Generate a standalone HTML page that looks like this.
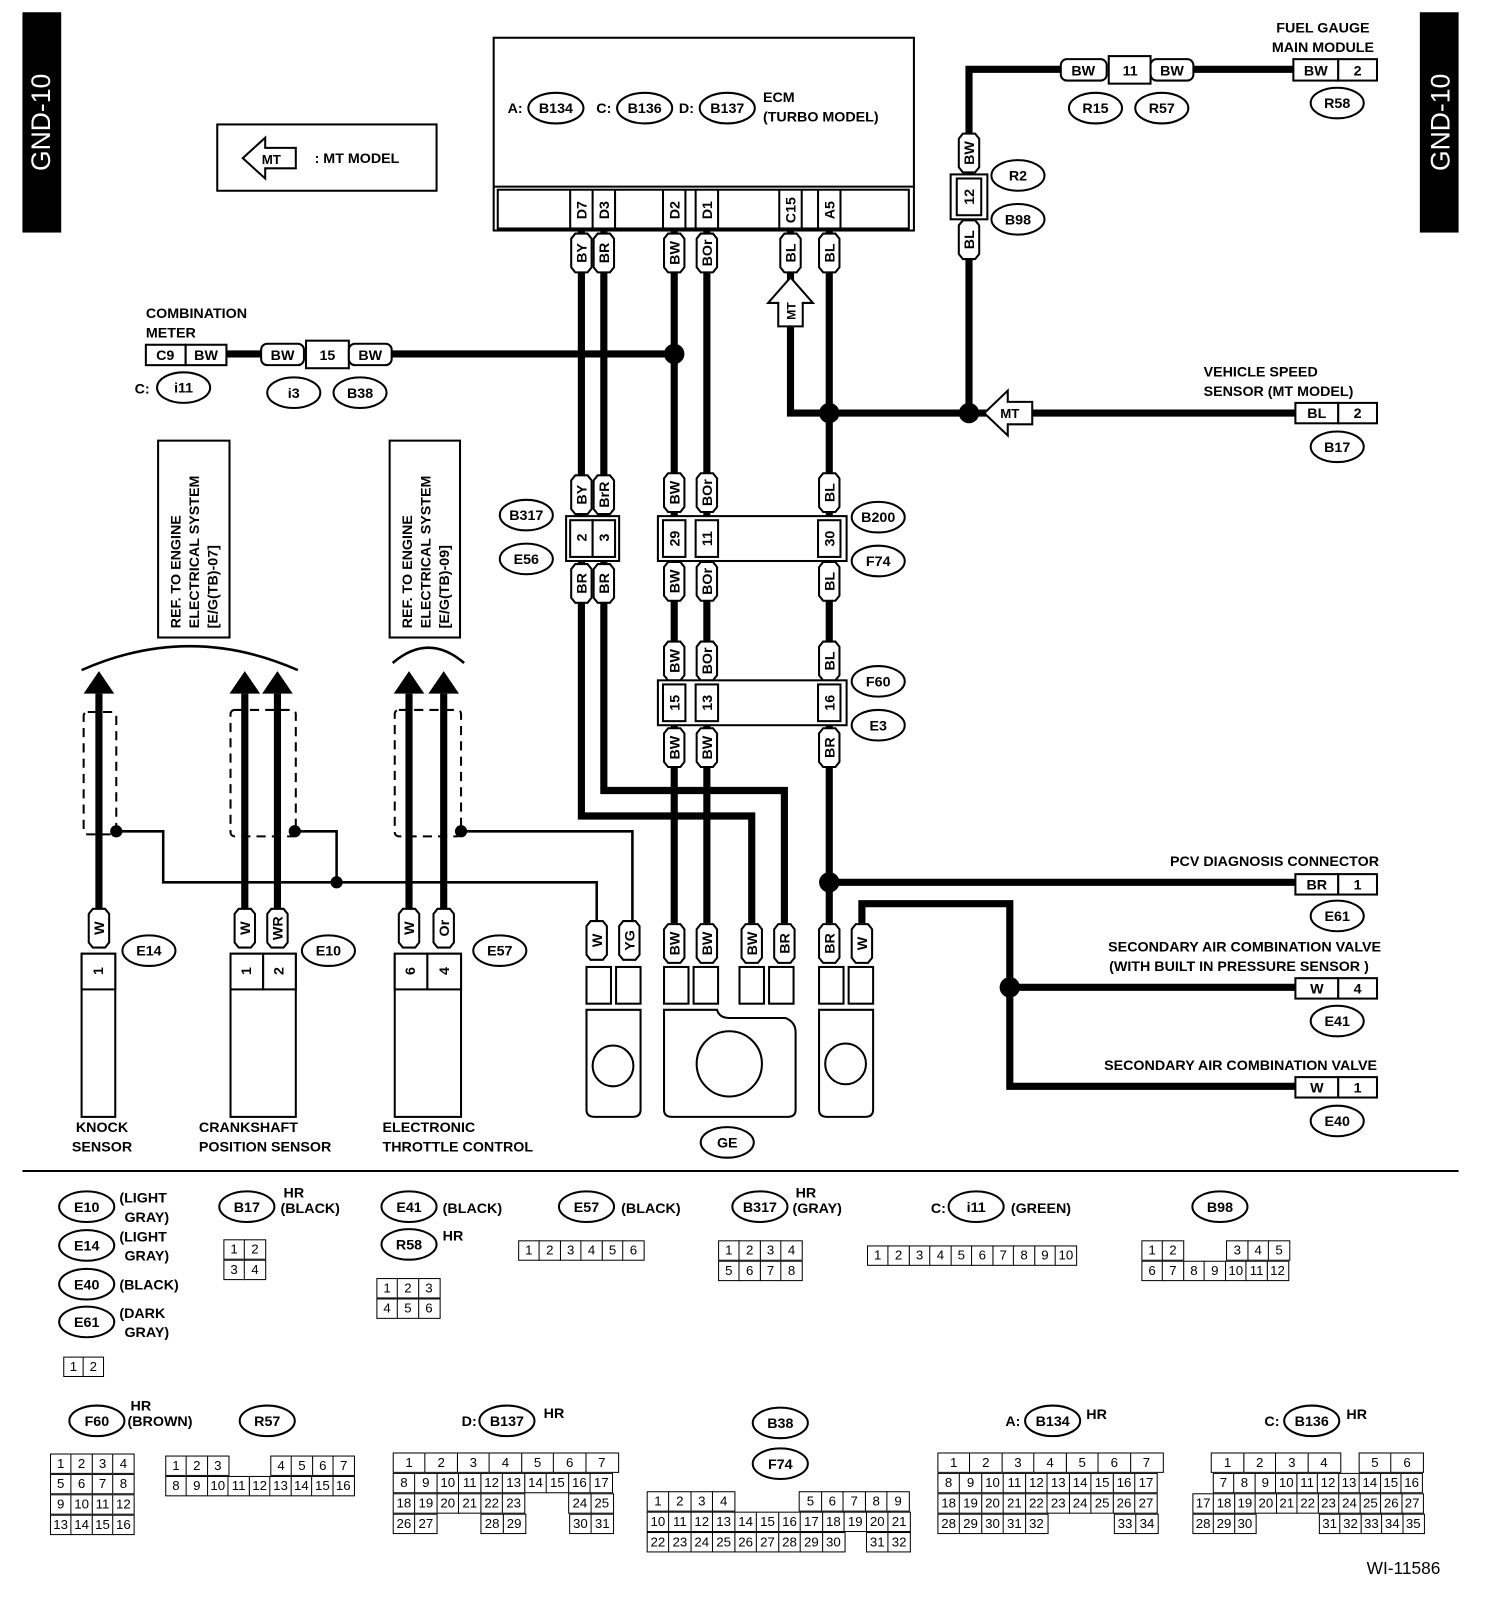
<!DOCTYPE html>
<html><head><meta charset="utf-8"><style>
html,body{margin:0;padding:0;background:#fff}
#w{position:absolute;left:0;top:0;width:1463px;height:1555px;transform:scale(1.02);transform-origin:0 0;font-family:"Liberation Sans",sans-serif;font-weight:bold}
svg{position:absolute;left:0;top:0}
svg text{font-family:"Liberation Sans",sans-serif;font-weight:bold;font-size:14px;text-anchor:middle}
.r{position:absolute;display:flex;height:20px}
.r span{box-sizing:border-box;height:20px;border:1.5px solid #000;margin-left:-1.5px;font-size:13px;line-height:17px;text-align:center;font-weight:normal;background:#fff}
.r span.e{border-color:transparent;background:transparent}
</style></head><body><div id="w">
<svg width="1463" height="1555" viewBox="0 0 1463 1555">
<defs>
<g id="cap"><path d="M-10,-14 L-6,-19 L6,-19 L10,-14 L10,14 L6,19 L-6,19 L-10,14Z" fill="#fff" stroke="#000" stroke-width="2"/></g>
</defs>
<rect x="22" y="12" width="38" height="216" fill="#000"/>
<rect x="1392" y="12" width="38" height="216" fill="#000"/>
<text transform="translate(49,120) rotate(-90)" fill="#fff" style="font-size:26px;font-weight:normal">GND-10</text>
<text transform="translate(1421,120) rotate(-90)" fill="#fff" style="font-size:26px;font-weight:normal">GND-10</text>
<rect x="213" y="122" width="215" height="65" fill="none" stroke="#000" stroke-width="2"/>
<path d="M238,155 L260,135 L260,145 L290,145 L290,165 L260,165 L260,175Z" fill="#fff" stroke="#000" stroke-width="2"/>
<text x="266" y="161" style="font-size:13px">MT</text>
<text x="350" y="160" style="font-size:14px">: MT MODEL</text>
<rect x="484" y="37" width="412" height="189" fill="none" stroke="#000" stroke-width="2"/>
<line x1="484" y1="183" x2="896" y2="183" stroke="#000" stroke-width="2"/>
<rect x="488" y="186" width="403" height="38" fill="none" stroke="#000" stroke-width="2"/>
<g stroke="#000" stroke-width="2"><line x1="559" y1="186" x2="559" y2="224"/><line x1="581" y1="186" x2="581" y2="224"/><line x1="603" y1="186" x2="603" y2="224"/><line x1="650" y1="186" x2="650" y2="224"/><line x1="672" y1="186" x2="672" y2="224"/><line x1="682" y1="186" x2="682" y2="224"/><line x1="704" y1="186" x2="704" y2="224"/><line x1="764" y1="186" x2="764" y2="224"/><line x1="786" y1="186" x2="786" y2="224"/><line x1="802" y1="186" x2="802" y2="224"/><line x1="824" y1="186" x2="824" y2="224"/></g>
<g style="font-size:13px"><text transform="translate(575,206) rotate(-90)">D7</text><text transform="translate(597,206) rotate(-90)">D3</text><text transform="translate(666,206) rotate(-90)">D2</text><text transform="translate(698,206) rotate(-90)">D1</text><text transform="translate(780,206) rotate(-90)">C15</text><text transform="translate(818,206) rotate(-90)">A5</text></g>
<text x="505" y="111">A:</text><text x="592" y="111">C:</text><text x="673" y="111">D:</text>
<g fill="#fff" stroke="#000" stroke-width="2"><ellipse cx="545" cy="106" rx="27" ry="15"/><ellipse cx="632" cy="106" rx="27" ry="15"/><ellipse cx="713" cy="106" rx="27" ry="15"/></g>
<text x="545" y="111">B134</text><text x="632" y="111">B136</text><text x="713" y="111">B137</text>
<text x="748" y="100" style="text-anchor:start">ECM</text><text x="748" y="119" style="text-anchor:start">(TURBO MODEL)</text>

<g fill="none" stroke="#000" stroke-width="7">
<path d="M570,226 V800 H737 V905"/>
<path d="M592,226 V775 H769 V905"/>
<path d="M661,226 V905"/>
<path d="M693,226 V905"/>
<path d="M775,226 V280"/>
<path d="M775,318 V405 H950"/>
<path d="M813,226 V905"/>
<path d="M950,405 H968"/>
<path d="M1010,405 H1270"/>
<path d="M950,405 V68 H1040"/>
<path d="M1170,68 H1268"/>
<path d="M813,865 H1270"/>
<path d="M845,905 V886 H990 V1065 H1270"/>
<path d="M990,968 H1270"/>
<path d="M222,347 H256"/><path d="M384,347 H661"/>
<path d="M97,680 V895"/><path d="M240,680 V895"/><path d="M272,680 V895"/><path d="M401,680 V895"/><path d="M435,680 V895"/>
</g>
<g fill="none" stroke="#000" stroke-width="2.5">
<path d="M114,815 H160 V865 H585 V905"/>
<path d="M289,815 H330 V865"/>
<path d="M452,815 H620 V905"/>
<path d="M80,657 Q186,610 292,657"/>
<path d="M385,650 Q420,620 455,650"/>
</g>
<g fill="none" stroke="#000" stroke-width="2" stroke-dasharray="9,6">
<rect x="82" y="698" width="32" height="120" rx="4"/>
<rect x="226" y="696" width="64" height="124" rx="4"/>
<rect x="387" y="696" width="65" height="124" rx="4"/>
</g>
<g fill="#000"><circle cx="661" cy="347" r="10"/><circle cx="813" cy="405" r="10"/><circle cx="950" cy="405" r="10"/><circle cx="813" cy="865" r="10"/><circle cx="990" cy="968" r="10"/><circle cx="114" cy="815" r="6"/><circle cx="289" cy="815" r="6"/><circle cx="452" cy="815" r="6"/><circle cx="330" cy="865" r="6"/>
<path d="M82,680 L97,658 L112,680Z"/><path d="M225,680 L240,658 L255,680Z"/><path d="M257,680 L272,658 L287,680Z"/><path d="M386,680 L401,658 L416,680Z"/><path d="M420,680 L435,658 L450,680Z"/></g>
<path d="M775,272 L797,297 L787,297 L787,320 L763,320 L763,297 L753,297Z" fill="#fff" stroke="#000" stroke-width="2"/>
<text transform="translate(780,305) rotate(-90)" style="font-size:12px">MT</text>
<path d="M965,405 L988,383 L988,394 L1012,394 L1012,416 L988,416 L988,427Z" fill="#fff" stroke="#000" stroke-width="2"/>
<text x="990" y="410" style="font-size:13px">MT</text>

<g style="font-size:13px">
<use href="#cap" x="570" y="248"/><text transform="translate(575,248) rotate(-90)">BY</text>
<use href="#cap" x="592" y="248"/><text transform="translate(597,248) rotate(-90)">BR</text>
<use href="#cap" x="661" y="248"/><text transform="translate(666,248) rotate(-90)">BW</text>
<use href="#cap" x="693" y="248"/><text transform="translate(698,248) rotate(-90)">BOr</text>
<use href="#cap" x="775" y="248"/><text transform="translate(780,248) rotate(-90)">BL</text>
<use href="#cap" x="813" y="248"/><text transform="translate(818,248) rotate(-90)">BL</text>
<use href="#cap" x="570" y="485"/><text transform="translate(575,485) rotate(-90)">BY</text>
<use href="#cap" x="592" y="485"/><text transform="translate(597,485) rotate(-90)">BrR</text>
<use href="#cap" x="570" y="572"/><text transform="translate(575,572) rotate(-90)">BR</text>
<use href="#cap" x="592" y="572"/><text transform="translate(597,572) rotate(-90)">BR</text>
<use href="#cap" x="661" y="483"/><text transform="translate(666,483) rotate(-90)">BW</text>
<use href="#cap" x="693" y="483"/><text transform="translate(698,483) rotate(-90)">BOr</text>
<use href="#cap" x="813" y="483"/><text transform="translate(818,483) rotate(-90)">BL</text>
<use href="#cap" x="661" y="570"/><text transform="translate(666,570) rotate(-90)">BW</text>
<use href="#cap" x="693" y="570"/><text transform="translate(698,570) rotate(-90)">BOr</text>
<use href="#cap" x="813" y="570"/><text transform="translate(818,570) rotate(-90)">BL</text>
<use href="#cap" x="661" y="648"/><text transform="translate(666,648) rotate(-90)">BW</text>
<use href="#cap" x="693" y="648"/><text transform="translate(698,648) rotate(-90)">BOr</text>
<use href="#cap" x="813" y="648"/><text transform="translate(818,648) rotate(-90)">BL</text>
<use href="#cap" x="661" y="733"/><text transform="translate(666,733) rotate(-90)">BW</text>
<use href="#cap" x="693" y="733"/><text transform="translate(698,733) rotate(-90)">BW</text>
<use href="#cap" x="813" y="733"/><text transform="translate(818,733) rotate(-90)">BR</text>
<use href="#cap" x="950" y="150"/><text transform="translate(955,150) rotate(-90)">BW</text>
<use href="#cap" x="950" y="235"/><text transform="translate(955,235) rotate(-90)">BL</text>
<use href="#cap" x="97" y="910"/><text transform="translate(102,910) rotate(-90)">W</text>
<use href="#cap" x="240" y="910"/><text transform="translate(245,910) rotate(-90)">W</text>
<use href="#cap" x="272" y="910"/><text transform="translate(277,910) rotate(-90)">WR</text>
<use href="#cap" x="401" y="910"/><text transform="translate(406,910) rotate(-90)">W</text>
<use href="#cap" x="435" y="910"/><text transform="translate(440,910) rotate(-90)">Or</text>
<use href="#cap" x="585" y="922"/><text transform="translate(590,922) rotate(-90)">W</text>
<use href="#cap" x="617" y="922"/><text transform="translate(622,922) rotate(-90)">YG</text>
<use href="#cap" x="661" y="925"/><text transform="translate(666,925) rotate(-90)">BW</text>
<use href="#cap" x="693" y="925"/><text transform="translate(698,925) rotate(-90)">BW</text>
<use href="#cap" x="737" y="925"/><text transform="translate(742,925) rotate(-90)">BW</text>
<use href="#cap" x="769" y="925"/><text transform="translate(774,925) rotate(-90)">BR</text>
<use href="#cap" x="813" y="925"/><text transform="translate(818,925) rotate(-90)">BR</text>
<use href="#cap" x="845" y="925"/><text transform="translate(850,925) rotate(-90)">W</text>
</g>
<g fill="#fff" stroke="#000" stroke-width="2">
<rect x="555" y="506" width="52" height="44"/><rect x="559" y="510" width="22" height="36"/><rect x="581" y="510" width="22" height="36"/>
<rect x="645" y="506" width="185" height="44"/><rect x="650" y="510" width="22" height="36"/><rect x="682" y="510" width="22" height="36"/><rect x="802" y="510" width="22" height="36"/>
<rect x="645" y="667" width="185" height="44"/><rect x="650" y="671" width="22" height="36"/><rect x="682" y="671" width="22" height="36"/><rect x="802" y="671" width="22" height="36"/>
<rect x="932" y="171" width="36" height="44"/><rect x="938" y="175" width="24" height="36"/>
<rect x="80" y="935" width="33" height="160"/><rect x="80" y="935" width="33" height="35"/>
<rect x="226" y="935" width="64" height="160"/><rect x="226" y="935" width="32" height="35"/><rect x="258" y="935" width="32" height="35"/>
<rect x="387" y="935" width="65" height="160"/><rect x="387" y="935" width="32" height="35"/><rect x="419" y="935" width="33" height="35"/>
</g>
<g style="font-size:13px">
<text transform="translate(575,527) rotate(-90)">2</text><text transform="translate(597,527) rotate(-90)">3</text>
<text transform="translate(666,528) rotate(-90)">29</text><text transform="translate(698,528) rotate(-90)">11</text><text transform="translate(818,528) rotate(-90)">30</text>
<text transform="translate(666,689) rotate(-90)">15</text><text transform="translate(698,689) rotate(-90)">13</text><text transform="translate(818,689) rotate(-90)">16</text>
<text transform="translate(955,193) rotate(-90)">12</text>
<text transform="translate(101,952) rotate(-90)">1</text>
<text transform="translate(246,952) rotate(-90)">1</text><text transform="translate(278,952) rotate(-90)">2</text>
<text transform="translate(407,952) rotate(-90)">6</text><text transform="translate(440,952) rotate(-90)">4</text>
</g>
<g fill="#fff" stroke="#000" stroke-width="2">
<rect x="575" y="948" width="24" height="36"/><rect x="604" y="948" width="24" height="36"/>
<path d="M575,990 H628 V1088 Q628,1095 620,1095 H583 Q575,1095 575,1088Z"/>
<circle cx="601" cy="1045" r="20"/>
<rect x="651" y="948" width="24" height="36"/><rect x="680" y="948" width="24" height="36"/>
<rect x="725" y="948" width="24" height="36"/><rect x="754" y="948" width="24" height="36"/>
<path d="M651,990 H703 Q705,998 715,998 H770 Q780,1002 780,1012 V1088 Q780,1095 772,1095 H659 Q651,1095 651,1088Z"/>
<circle cx="715" cy="1043" r="32"/>
<rect x="803" y="948" width="24" height="36"/><rect x="832" y="948" width="24" height="36"/>
<path d="M803,990 H856 V1088 Q856,1095 848,1095 H811 Q803,1095 803,1088Z"/>
<circle cx="829" cy="1043" r="20"/>
</g>
<g fill="#fff" stroke="#000" stroke-width="2">
<rect x="143" y="338" width="39" height="20"/><rect x="182" y="338" width="40" height="20"/>
<rect x="256" y="337" width="42" height="21" rx="6"/><rect x="300" y="334" width="42" height="27"/><rect x="342" y="337" width="42" height="21" rx="6"/>
<rect x="1040" y="58" width="45" height="21" rx="6"/><rect x="1087" y="55" width="41" height="27"/><rect x="1128" y="58" width="42" height="21" rx="6"/>
<rect x="1268" y="58" width="44" height="21"/><rect x="1312" y="58" width="38" height="21"/>
<rect x="1270" y="395" width="42" height="20"/><rect x="1312" y="395" width="38" height="20"/>
<rect x="1270" y="857" width="42" height="20"/><rect x="1312" y="857" width="38" height="20"/>
<rect x="1270" y="959" width="42" height="20"/><rect x="1312" y="959" width="38" height="20"/>
<rect x="1270" y="1056" width="42" height="20"/><rect x="1312" y="1056" width="38" height="20"/>
<rect x="155" y="432" width="70" height="193"/><rect x="382" y="432" width="69" height="193"/>
</g>
<text x="162" y="353">C9</text><text x="202" y="353">BW</text>
<text x="277" y="353">BW</text><text x="321" y="353">15</text><text x="363" y="353">BW</text>
<text x="1062" y="74">BW</text><text x="1108" y="74">11</text><text x="1149" y="74">BW</text>
<text x="1290" y="74">BW</text><text x="1331" y="74">2</text>
<text x="1291" y="410">BL</text><text x="1331" y="410">2</text>
<text x="1291" y="872">BR</text><text x="1331" y="872">1</text>
<text x="1291" y="974">W</text><text x="1331" y="974">4</text>
<text x="1291" y="1071">W</text><text x="1331" y="1071">1</text>
<g style="font-size:13px;text-anchor:start">
<text transform="translate(177,616) rotate(-90)" style="text-anchor:start">REF. TO ENGINE</text>
<text transform="translate(195,616) rotate(-90)" style="text-anchor:start">ELECTRICAL SYSTEM</text>
<text transform="translate(213,616) rotate(-90)" style="text-anchor:start">[E/G(TB)-07]</text>
<text transform="translate(404,616) rotate(-90)" style="text-anchor:start">REF. TO ENGINE</text>
<text transform="translate(422,616) rotate(-90)" style="text-anchor:start">ELECTRICAL SYSTEM</text>
<text transform="translate(440,616) rotate(-90)" style="text-anchor:start">[E/G(TB)-09]</text>
</g>
<g style="text-anchor:start">
<text x="143" y="312" style="text-anchor:start">COMBINATION</text><text x="143" y="331" style="text-anchor:start">METER</text>
<text x="132" y="386" style="text-anchor:start">C:</text>
<text x="1180" y="369" style="text-anchor:start">VEHICLE SPEED</text><text x="1180" y="388" style="text-anchor:start">SENSOR (MT MODEL)</text>
</g>
<text x="1297" y="32">FUEL GAUGE</text><text x="1297" y="51">MAIN MODULE</text>
<text x="1352" y="849" style="text-anchor:end">PCV DIAGNOSIS CONNECTOR</text>
<text x="1354" y="933" style="text-anchor:end">SECONDARY AIR COMBINATION VALVE</text>
<text x="1342" y="952" style="text-anchor:end">(WITH BUILT IN PRESSURE SENSOR )</text>
<text x="1350" y="1049" style="text-anchor:end">SECONDARY AIR COMBINATION VALVE</text>
<text x="100" y="1110">KNOCK</text><text x="100" y="1129">SENSOR</text>
<text x="195" y="1110" style="text-anchor:start">CRANKSHAFT</text><text x="195" y="1129" style="text-anchor:start">POSITION SENSOR</text>
<text x="375" y="1110" style="text-anchor:start">ELECTRONIC</text><text x="375" y="1129" style="text-anchor:start">THROTTLE CONTROL</text>
<g fill="#fff" stroke="#000" stroke-width="2">
<ellipse cx="516" cy="505" rx="26" ry="15"/><ellipse cx="516" cy="548" rx="26" ry="15"/>
<ellipse cx="861" cy="507" rx="26" ry="15"/><ellipse cx="861" cy="550" rx="26" ry="15"/>
<ellipse cx="861" cy="668" rx="26" ry="15"/><ellipse cx="861" cy="711" rx="26" ry="15"/>
<ellipse cx="998" cy="172" rx="26" ry="15"/><ellipse cx="998" cy="215" rx="26" ry="15"/>
<ellipse cx="1074" cy="106" rx="26" ry="15"/><ellipse cx="1139" cy="106" rx="26" ry="15"/>
<ellipse cx="1311" cy="101" rx="26" ry="15"/><ellipse cx="1311" cy="438" rx="26" ry="15"/>
<ellipse cx="1311" cy="898" rx="26" ry="15"/><ellipse cx="1311" cy="1001" rx="26" ry="15"/><ellipse cx="1311" cy="1099" rx="26" ry="15"/>
<ellipse cx="180" cy="380" rx="26" ry="15"/><ellipse cx="288" cy="385" rx="26" ry="15"/><ellipse cx="353" cy="385" rx="26" ry="15"/>
<ellipse cx="146" cy="932" rx="26" ry="15"/><ellipse cx="322" cy="932" rx="26" ry="15"/><ellipse cx="490" cy="932" rx="26" ry="15"/>
<ellipse cx="713" cy="1120" rx="26" ry="15"/>
<ellipse cx="85" cy="1183" rx="27" ry="15"/><ellipse cx="85" cy="1221" rx="27" ry="15"/><ellipse cx="85" cy="1259" rx="27" ry="15"/><ellipse cx="85" cy="1296" rx="27" ry="15"/>
<ellipse cx="242" cy="1183" rx="27" ry="15"/><ellipse cx="401" cy="1183" rx="27" ry="15"/><ellipse cx="401" cy="1220" rx="27" ry="15"/>
<ellipse cx="575" cy="1183" rx="27" ry="15"/><ellipse cx="745" cy="1183" rx="27" ry="15"/><ellipse cx="957" cy="1183" rx="27" ry="15"/><ellipse cx="1196" cy="1183" rx="27" ry="15"/>
<ellipse cx="95" cy="1393" rx="27" ry="15"/><ellipse cx="262" cy="1393" rx="27" ry="15"/><ellipse cx="497" cy="1393" rx="27" ry="15"/>
<ellipse cx="765" cy="1395" rx="27" ry="15"/><ellipse cx="765" cy="1435" rx="27" ry="15"/>
<ellipse cx="1032" cy="1393" rx="27" ry="15"/><ellipse cx="1286" cy="1393" rx="27" ry="15"/>
</g>
<text x="516" y="510">B317</text><text x="516" y="553">E56</text>
<text x="861" y="512">B200</text><text x="861" y="555">F74</text>
<text x="861" y="673">F60</text><text x="861" y="716">E3</text>
<text x="998" y="177">R2</text><text x="998" y="220">B98</text>
<text x="1074" y="111">R15</text><text x="1139" y="111">R57</text>
<text x="1311" y="106">R58</text><text x="1311" y="443">B17</text>
<text x="1311" y="903">E61</text><text x="1311" y="1006">E41</text><text x="1311" y="1104">E40</text>
<text x="180" y="385">i11</text><text x="288" y="390">i3</text><text x="353" y="390">B38</text>
<text x="146" y="937">E14</text><text x="322" y="937">E10</text><text x="490" y="937">E57</text>
<text x="713" y="1125">GE</text>
<line x1="22" y1="1148" x2="1430" y2="1148" stroke="#000" stroke-width="2"/>
<text x="85" y="1188">E10</text><text x="85" y="1226">E14</text><text x="85" y="1264">E40</text><text x="85" y="1301">E61</text>
<g style="text-anchor:start">
<text x="117" y="1179" style="text-anchor:start">(LIGHT</text><text x="122" y="1198" style="text-anchor:start">GRAY)</text>
<text x="117" y="1217" style="text-anchor:start">(LIGHT</text><text x="122" y="1236" style="text-anchor:start">GRAY)</text>
<text x="117" y="1264" style="text-anchor:start">(BLACK)</text>
<text x="117" y="1292" style="text-anchor:start">(DARK</text><text x="122" y="1311" style="text-anchor:start">GRAY)</text>
<text x="278" y="1174" style="text-anchor:start">HR</text><text x="275" y="1189" style="text-anchor:start">(BLACK)</text>
<text x="434" y="1189" style="text-anchor:start">(BLACK)</text><text x="434" y="1216" style="text-anchor:start">HR</text>
<text x="609" y="1189" style="text-anchor:start">(BLACK)</text>
<text x="780" y="1174" style="text-anchor:start">HR</text><text x="777" y="1189" style="text-anchor:start">(GRAY)</text>
<text x="991" y="1189" style="text-anchor:start">(GREEN)</text>
<text x="128" y="1383" style="text-anchor:start">HR</text><text x="125" y="1398" style="text-anchor:start">(BROWN)</text>
<text x="533" y="1390" style="text-anchor:start">HR</text>
<text x="1065" y="1391" style="text-anchor:start">HR</text>
<text x="1320" y="1391" style="text-anchor:start">HR</text>
</g>
<text x="242" y="1188">B17</text><text x="401" y="1188">E41</text><text x="401" y="1225">R58</text>
<text x="575" y="1188">E57</text><text x="745" y="1188">B317</text><text x="920" y="1189">C:</text><text x="957" y="1188">i11</text><text x="1196" y="1188">B98</text>
<text x="95" y="1398">F60</text><text x="262" y="1398">R57</text><text x="460" y="1398">D:</text><text x="497" y="1398">B137</text>
<text x="765" y="1400">B38</text><text x="765" y="1440">F74</text>
<text x="993" y="1398">A:</text><text x="1032" y="1398">B134</text><text x="1247" y="1398">C:</text><text x="1286" y="1398">B136</text>
<text x="1376" y="1543" style="font-size:17px;font-weight:normal">WI-11586</text>
</svg>

<div class="r" style="left:63px;top:1330px"><span style="width:21px">1</span><span style="width:21px">2</span></div>
<div class="r" style="left:220px;top:1215px"><span style="width:22px">1</span><span style="width:22px">2</span></div>
<div class="r" style="left:220px;top:1235px"><span style="width:22px">3</span><span style="width:22px">4</span></div>
<div class="r" style="left:370px;top:1253px"><span style="width:22px">1</span><span style="width:22px">2</span><span style="width:22px">3</span></div>
<div class="r" style="left:370px;top:1273px"><span style="width:22px">4</span><span style="width:22px">5</span><span style="width:22px">6</span></div>
<div class="r" style="left:509px;top:1216px"><span style="width:22px">1</span><span style="width:22px">2</span><span style="width:22px">3</span><span style="width:22px">4</span><span style="width:22px">5</span><span style="width:22px">6</span></div>
<div class="r" style="left:705px;top:1216px"><span style="width:22px">1</span><span style="width:22px">2</span><span style="width:22px">3</span><span style="width:22px">4</span></div>
<div class="r" style="left:705px;top:1236px"><span style="width:22px">5</span><span style="width:22px">6</span><span style="width:22px">7</span><span style="width:22px">8</span></div>
<div class="r" style="left:851px;top:1221px"><span style="width:22px">1</span><span style="width:22px">2</span><span style="width:22px">3</span><span style="width:22px">4</span><span style="width:22px">5</span><span style="width:22px">6</span><span style="width:22px">7</span><span style="width:22px">8</span><span style="width:22px">9</span><span style="width:22px">10</span></div>
<div class="r" style="left:1120px;top:1216px"><span style="width:22px">1</span><span style="width:22px">2</span><span class="e" style="width:44px"></span><span style="width:22px">3</span><span style="width:22px">4</span><span style="width:22px">5</span></div>
<div class="r" style="left:1120px;top:1236px"><span style="width:22px">6</span><span style="width:22px">7</span><span style="width:22px">8</span><span style="width:22px">9</span><span style="width:22px">10</span><span style="width:22px">11</span><span style="width:22px">12</span></div>

<div class="r" style="left:50px;top:1425px"><span style="width:22px">1</span><span style="width:22px">2</span><span style="width:22px">3</span><span style="width:22px">4</span></div>
<div class="r" style="left:50px;top:1445px"><span style="width:22px">5</span><span style="width:22px">6</span><span style="width:22px">7</span><span style="width:22px">8</span></div>
<div class="r" style="left:50px;top:1465px"><span style="width:22px">9</span><span style="width:22px">10</span><span style="width:22px">11</span><span style="width:22px">12</span></div>
<div class="r" style="left:50px;top:1485px"><span style="width:22px">13</span><span style="width:22px">14</span><span style="width:22px">15</span><span style="width:22px">16</span></div>

<div class="r" style="left:163px;top:1427px"><span style="width:22px">1</span><span style="width:22px">2</span><span style="width:22px">3</span><span class="e" style="width:43px"></span><span style="width:22px">4</span><span style="width:22px">5</span><span style="width:22px">6</span><span style="width:22px">7</span></div>
<div class="r" style="left:163px;top:1447px"><span style="width:22px">8</span><span style="width:22px">9</span><span style="width:22px">10</span><span style="width:22px">11</span><span style="width:22px">12</span><span style="width:22px">13</span><span style="width:22px">14</span><span style="width:22px">15</span><span style="width:22px">16</span></div>

<div class="r" style="left:386px;top:1424px"><span style="width:33px">1</span><span style="width:33px">2</span><span style="width:33px">3</span><span style="width:33px">4</span><span style="width:33px">5</span><span style="width:33px">6</span><span style="width:33px">7</span></div>
<div class="r" style="left:386px;top:1444px"><span style="width:23px">8</span><span style="width:23px">9</span><span style="width:23px">10</span><span style="width:23px">11</span><span style="width:23px">12</span><span style="width:23px">13</span><span style="width:23px">14</span><span style="width:23px">15</span><span style="width:23px">16</span><span style="width:23px">17</span></div>
<div class="r" style="left:386px;top:1464px"><span style="width:23px">18</span><span style="width:23px">19</span><span style="width:23px">20</span><span style="width:23px">21</span><span style="width:23px">22</span><span style="width:23px">23</span><span class="e" style="width:45px"></span><span style="width:23px">24</span><span style="width:23px">25</span></div>
<div class="r" style="left:386px;top:1484px"><span style="width:23px">26</span><span style="width:23px">27</span><span class="e" style="width:45px"></span><span style="width:23px">28</span><span style="width:23px">29</span><span class="e" style="width:45px"></span><span style="width:23px">30</span><span style="width:23px">31</span></div>

<div class="r" style="left:635px;top:1462px"><span style="width:23px">1</span><span style="width:23px">2</span><span style="width:23px">3</span><span style="width:23px">4</span><span class="e" style="width:65px"></span><span style="width:23px">5</span><span style="width:23px">6</span><span style="width:23px">7</span><span style="width:23px">8</span><span style="width:23px">9</span></div>
<div class="r" style="left:635px;top:1482px"><span style="width:23px">10</span><span style="width:23px">11</span><span style="width:23px">12</span><span style="width:23px">13</span><span style="width:23px">14</span><span style="width:23px">15</span><span style="width:23px">16</span><span style="width:23px">17</span><span style="width:23px">18</span><span style="width:23px">19</span><span style="width:23px">20</span><span style="width:23px">21</span></div>
<div class="r" style="left:635px;top:1502px"><span style="width:23px">22</span><span style="width:23px">23</span><span style="width:23px">24</span><span style="width:23px">25</span><span style="width:23px">26</span><span style="width:23px">27</span><span style="width:23px">28</span><span style="width:23px">29</span><span style="width:23px">30</span><span class="e" style="width:23px"></span><span style="width:23px">31</span><span style="width:23px">32</span></div>

<div class="r" style="left:920px;top:1424px"><span style="width:33px">1</span><span style="width:33px">2</span><span style="width:33px">3</span><span style="width:33px">4</span><span style="width:33px">5</span><span style="width:33px">6</span><span style="width:33px">7</span></div>
<div class="r" style="left:920px;top:1444px"><span style="width:23px">8</span><span style="width:23px">9</span><span style="width:23px">10</span><span style="width:23px">11</span><span style="width:23px">12</span><span style="width:23px">13</span><span style="width:23px">14</span><span style="width:23px">15</span><span style="width:23px">16</span><span style="width:23px">17</span></div>
<div class="r" style="left:920px;top:1464px"><span style="width:23px">18</span><span style="width:23px">19</span><span style="width:23px">20</span><span style="width:23px">21</span><span style="width:23px">22</span><span style="width:23px">23</span><span style="width:23px">24</span><span style="width:23px">25</span><span style="width:23px">26</span><span style="width:23px">27</span></div>
<div class="r" style="left:920px;top:1484px"><span style="width:23px">28</span><span style="width:23px">29</span><span style="width:23px">30</span><span style="width:23px">31</span><span style="width:23px">32</span><span class="e" style="width:67px"></span><span style="width:23px">33</span><span style="width:23px">34</span></div>

<div class="r" style="left:1170px;top:1424px"><span class="e" style="width:20px"></span><span style="width:33px">1</span><span style="width:33px">2</span><span style="width:33px">3</span><span style="width:33px">4</span><span class="e" style="width:20px"></span><span style="width:33px">5</span><span style="width:33px">6</span></div>
<div class="r" style="left:1190px;top:1444px"><span style="width:22px">7</span><span style="width:22px">8</span><span style="width:22px">9</span><span style="width:22px">10</span><span style="width:22px">11</span><span style="width:22px">12</span><span style="width:22px">13</span><span style="width:22px">14</span><span style="width:22px">15</span><span style="width:22px">16</span></div>
<div class="r" style="left:1170px;top:1464px"><span style="width:22px">17</span><span style="width:22px">18</span><span style="width:22px">19</span><span style="width:22px">20</span><span style="width:22px">21</span><span style="width:22px">22</span><span style="width:22px">23</span><span style="width:22px">24</span><span style="width:22px">25</span><span style="width:22px">26</span><span style="width:22px">27</span></div>
<div class="r" style="left:1170px;top:1484px"><span style="width:22px">28</span><span style="width:22px">29</span><span style="width:22px">30</span><span class="e" style="width:64px"></span><span style="width:22px">31</span><span style="width:22px">32</span><span style="width:22px">33</span><span style="width:22px">34</span><span style="width:22px">35</span></div>
</div></body></html>
